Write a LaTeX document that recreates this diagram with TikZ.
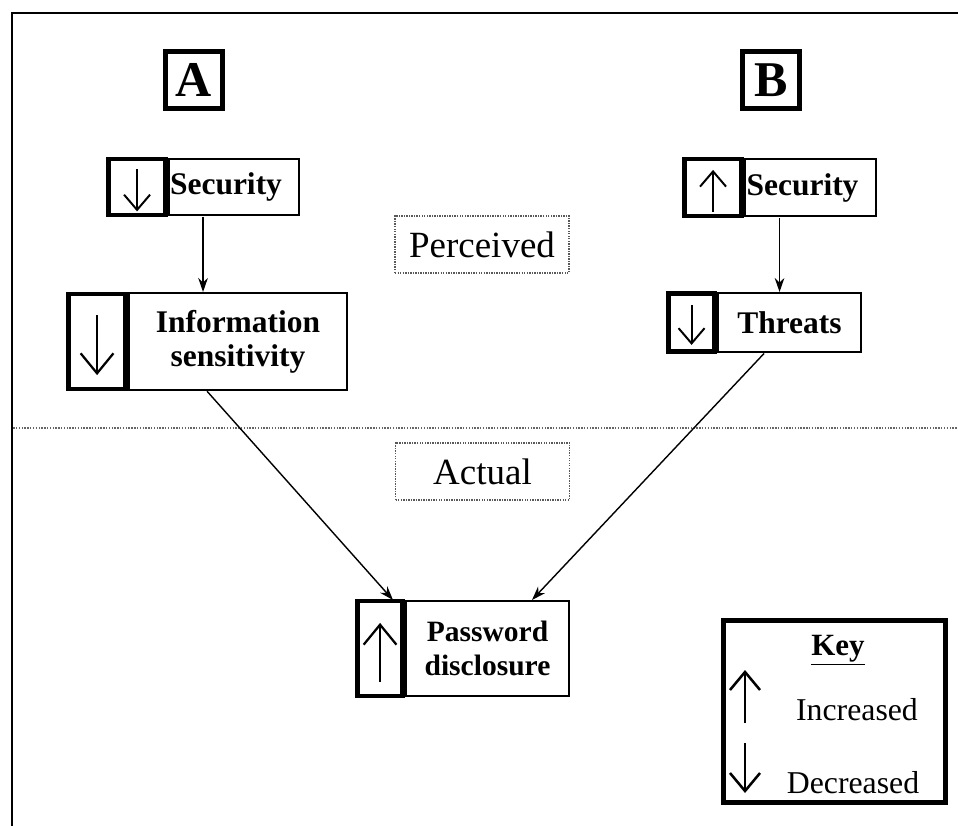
\documentclass[tikz,border=0pt]{standalone}
\usepackage{fontspec}
\setmainfont{Liberation Serif}
\usetikzlibrary{positioning,arrows.meta,calc}

\tikzset{
  textbox/.style={draw, line width=1.4pt, inner sep=0pt, align=center, font=\fontsize{22.4}{24.2}\selectfont\bfseries},
  markbox/.style={draw, line width=3.5pt, inner sep=0pt, minimum width=1.425cm},
  tagbox/.style={draw, line width=3.5pt, inner sep=0pt, minimum size=1.425cm, font=\fontsize{35.6}{40}\selectfont\bfseries},
  levelbox/.style={draw=gray!70!black, line width=0.8pt, dash pattern=on 1pt off 0.8pt, inner sep=0pt, minimum width=4.35cm, minimum height=1.425cm, font=\fontsize{26.3}{30}\selectfont},
  link/.style={line width=1pt, -{Stealth[length=0.35cm,width=0.24cm]}},
  trend/.style={line width=1.4pt, -{Straight Barb[length=0.38cm,width=0.65cm]}},
  bigtrend/.style={line width=1.6pt, -{Straight Barb[length=0.5cm,width=0.82cm]}},
}

\begin{document}
\begin{tikzpicture}[x=1cm,y=1cm]
\useasboundingbox (0,0) rectangle (23.95,20.625);
% frame and perceived/actual divider
\draw[line width=2.1pt] (0.3,-1) -- (0.3,20.3) -- (25,20.3);
\draw[gray!80!black, line width=0.8pt, dash pattern=on 1pt off 1pt] (0.33,9.925) -- (23.95,9.925);

\node[tagbox] (tagA) at (4.85,18.625) {A};
\node[tagbox] (tagB) at (19.275,18.625) {B};

\node[levelbox] (perceived) at (12.05,14.5125) {Perceived};
\node[levelbox] (actual) at (12.0625,8.8375) {Actual};

% side A
\node[textbox, minimum width=3.25cm, minimum height=1.4cm] (secA) at (5.85,15.95) {\hspace*{-0.4cm}Security};
\node[markbox, minimum height=1.4cm, left=0pt of secA] (secAm) {};
\node[textbox, minimum width=5.45cm, minimum height=2.425cm] (info) at (5.95,12.0875) {Information\\sensitivity};
\node[markbox, minimum height=2.375cm, left=0pt of info] (infom) {};

% side B
\node[textbox, minimum width=3.275cm, minimum height=1.425cm] (secB) at (20.2625,15.9375) {\hspace*{-0.4cm}Security};
\node[markbox, minimum height=1.425cm, left=0pt of secB] (secBm) {};
\node[textbox, minimum width=3.575cm, minimum height=1.475cm] (threats) at (19.7375,12.5625) {Threats};
\node[markbox, minimum width=1.15cm, minimum height=1.45cm, left=0pt of threats] (threatsm) {};

% outcome
\node[textbox, minimum width=4.075cm, minimum height=2.375cm, font=\fontsize{21}{24.2}\selectfont\bfseries] (pwd) at (12.1875,4.4125) {Password\\disclosure};
\node[markbox, minimum width=1.125cm, minimum height=2.375cm, left=0pt of pwd] (pwdm) {};

% up/down marks
\draw[trend] ($(secAm.center)+(0,0.44)$) -- ($(secAm.center)+(0,-0.61)$);
\draw[bigtrend] ($(infom.center)+(0,0.66)$) -- ($(infom.center)+(0,-0.84)$);
\draw[trend] ($(secBm.center)+(0,-0.61)$) -- ($(secBm.center)+(0,0.44)$);
\draw[trend] ($(threatsm.center)+(0,0.44)$) -- ($(threatsm.center)+(0,-0.56)$);
\draw[bigtrend] ($(pwdm.center)+(0,-0.84)$) -- ($(pwdm.center)+(0,0.64)$);

% connectors
\coordinate (secAmid) at ($(secAm.south west)!0.5!(secA.south east)$);
\coordinate (secBmid) at ($(secBm.south west)!0.5!(secB.south east)$);
\coordinate (infomid) at ($(infom.south west)!0.5!(info.south east)$);
\coordinate (threatsmid) at ($(threatsm.south west)!0.5!(threats.south east)$);
\draw[link] (secAmid) -- (secAmid |- info.north);
\draw[link] (secBmid) -- (secBmid |- threats.north);
\draw[link] (infomid) -- ([xshift=-0.3cm]pwd.north west);
\draw[link] (threatsmid) -- ([xshift=-0.95cm]pwd.north east);

% key
\node[draw, line width=3.5pt, minimum width=5.55cm, minimum height=4.55cm] (key) at (20.8625,2.8375) {};
\node[font=\fontsize{22}{24}\selectfont\bfseries] (keyhead) at (20.95,4.375) {\underline{Key}};
\node[font=\fontsize{22.6}{24}\selectfont] (keyup) at (21.425,2.875) {Increased};
\node[font=\fontsize{22.6}{24}\selectfont] (keydown) at (21.325,1.05) {Decreased};
\draw[line width=1.8pt, -{Straight Barb[length=0.45cm,width=0.75cm]}] (18.625,2.55) -- (18.625,3.875);
\draw[line width=1.8pt, -{Straight Barb[length=0.45cm,width=0.75cm]}] (18.625,2.05) -- (18.625,0.8);
\end{tikzpicture}
\end{document}
